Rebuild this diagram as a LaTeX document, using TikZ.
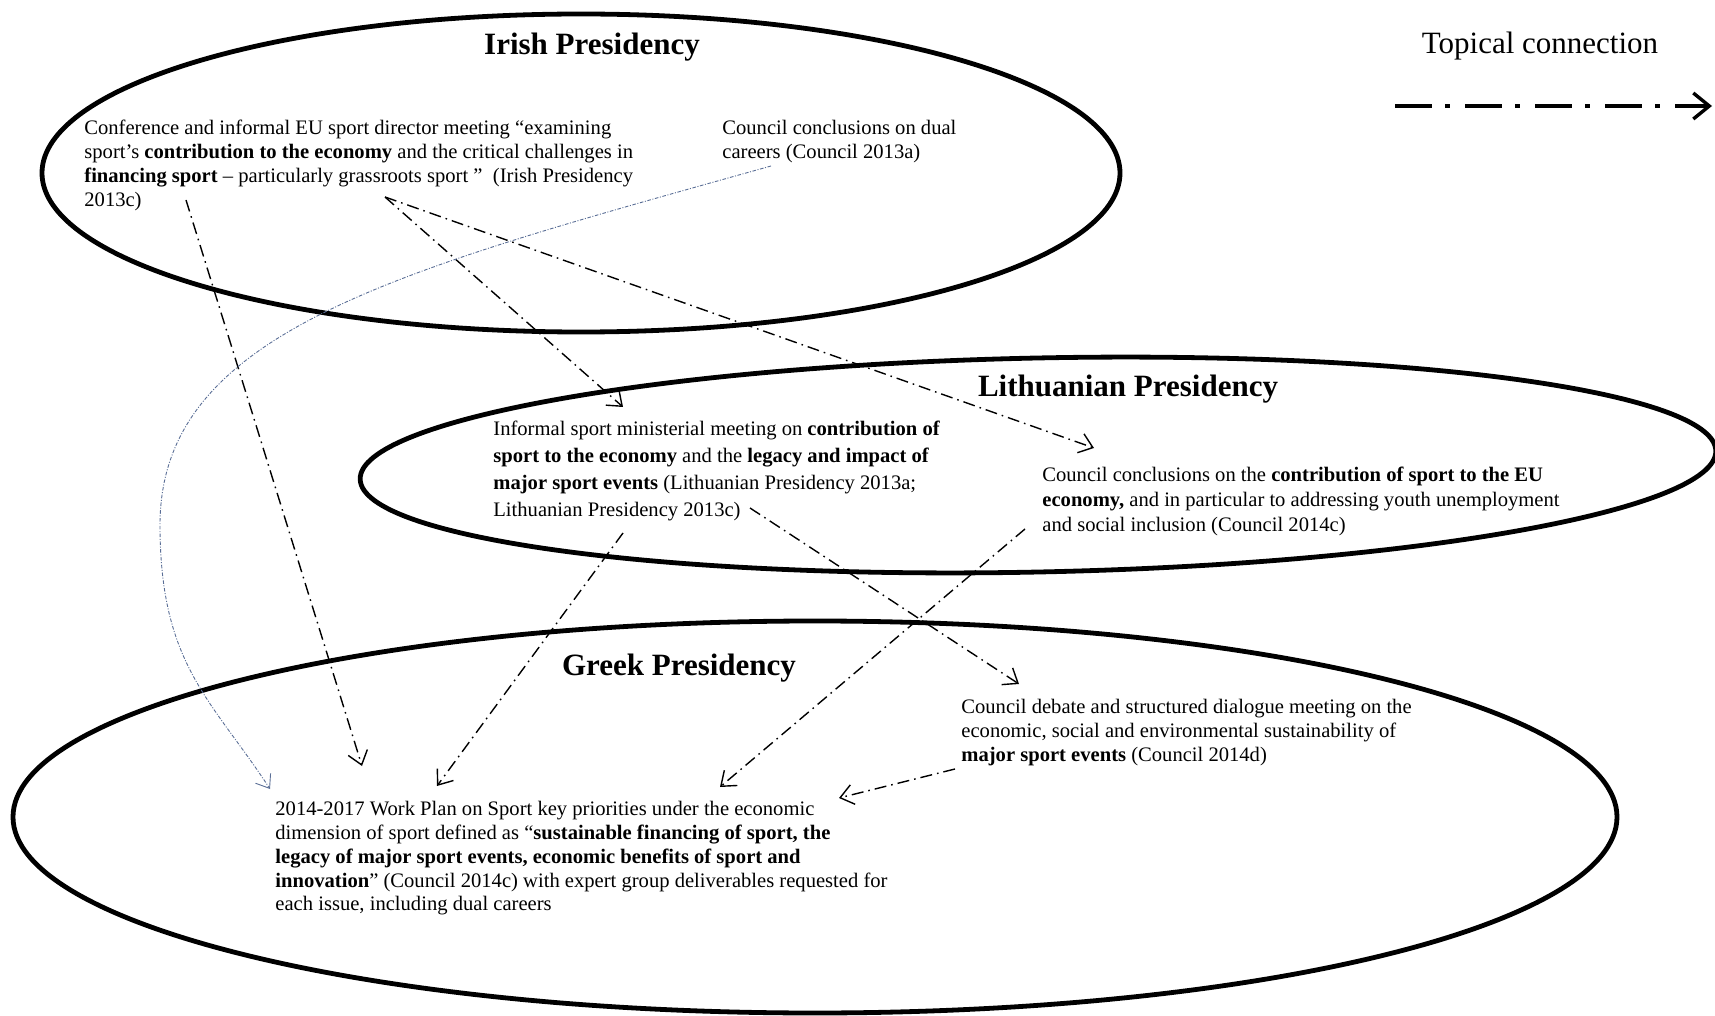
\documentclass[tikz,border=0pt]{standalone}
\usepackage{fontspec}
\setmainfont{Liberation Serif}
\usetikzlibrary{arrows.meta}
\definecolor{dualblue}{RGB}{90,110,150}
\begin{document}
\begin{tikzpicture}[x=0.5pt,y=-0.5pt,
  region/.style={line width=2.4pt},
  body/.style={anchor=north west, inner sep=0pt, align=left},
  title/.style={font=\fontsize{15.5}{18}\selectfont\bfseries, inner sep=0pt},
  topical/.style={line width=0.7pt, dash pattern=on 6pt off 2.5pt on 0.8pt off 2.5pt,
    -{Straight Barb[length=6.5pt,width=10pt,line width=0.7pt]}},
  dualcareer/.style={dualblue, line width=0.45pt, dash pattern=on 1.8pt off 0.8pt on 0.5pt off 0.8pt,
    -{Straight Barb[length=6pt,width=9pt,line width=0.45pt]}},
  legend/.style={line width=1.7pt, dash pattern=on 18.5pt off 6.5pt on 2.5pt off 7.5pt,
    -{Straight Barb[length=8pt,width=13pt,line width=1.7pt]}}
]
\useasboundingbox (0,0) rectangle (1715,1016);

% presidencies
\draw[region] (581,173) ellipse [x radius=269.5pt, y radius=79.5pt];
\draw[region, rotate around={1.2:(1038,465)}] (1038,465) ellipse [x radius=339pt, y radius=53.5pt];
\draw[region] (815,817) ellipse [x radius=401pt, y radius=98pt];

\node[title] (irishT) at (592,47) {Irish Presidency};
\node[title] (lithT) at (1128,389) {Lithuanian Presidency};
\node[title] (greekT) at (679,668) {Greek Presidency};

% legend
\node[font=\fontsize{15.5}{18}\selectfont, inner sep=0pt] (legT) at (1540,46) {Topical connection};
\coordinate (legA) at (1395,106);
\coordinate (legB) at (1712,106);
\draw[legend] (legA) -- (legB);

% texts
\node[body, font=\fontsize{10.3}{12}\selectfont] (conf) at (84,120) {Conference and informal EU sport director meeting “examining\\
sport’s \textbf{contribution to the economy} and the critical challenges in\\
\textbf{financing sport} – particularly grassroots sport ”~~(Irish Presidency\\
2013c)};
\node[body, font=\fontsize{10.3}{12}\selectfont] (dual) at (722,120) {Council conclusions on dual\\
careers (Council 2013a)};
\node[body, font=\fontsize{10.3}{13.4}\selectfont] (informal) at (493,421) {Informal sport ministerial meeting on \textbf{contribution of}\\
\textbf{sport to the economy} and the \textbf{legacy and impact of}\\
\textbf{major sport events} (Lithuanian Presidency 2013a;\\
Lithuanian Presidency 2013c)};
\node[body, font=\fontsize{10.3}{12.3}\selectfont] (contrib) at (1042,467) {Council conclusions on the \textbf{contribution of sport to the EU}\\
\textbf{economy,} and in particular to addressing youth unemployment\\
and social inclusion (Council 2014c)};
\node[body, font=\fontsize{10.3}{12}\selectfont] (debate) at (961,699) {Council debate and structured dialogue meeting on the\\
economic, social and environmental sustainability of\\
\textbf{major sport events} (Council 2014d)};
\node[body, font=\fontsize{10.3}{11.9}\selectfont] (workplan) at (275,801) {2014-2017 Work Plan on Sport key priorities under the economic\\
dimension of sport defined as “\textbf{sustainable financing of sport, the}\\
\textbf{legacy of major sport events, economic benefits of sport and}\\
\textbf{innovation}” (Council 2014c) with expert group deliverables requested for\\
each issue, including dual careers};

% connector ends
\coordinate (confA) at (186,200);
\coordinate (confB) at (385,197);
\coordinate (dualA) at (771,166);
\coordinate (infA) at (623,407);
\coordinate (infB) at (623,533);
\coordinate (infC) at (750,508);
\coordinate (conA) at (1094,448);
\coordinate (conB) at (1025,529);
\coordinate (debA) at (1019,684);
\coordinate (debB) at (955,769);
\coordinate (wpA) at (362,766);
\coordinate (wpB) at (437,786);
\coordinate (wpC) at (720,787);
\coordinate (wpD) at (839,798);
\coordinate (wpE) at (270,789);
\coordinate (bend) at (160,525);

\draw[topical] (confA) -- (wpA);
\draw[topical] (confB) -- (infA);
\draw[topical] (confB) -- (conA);
\draw[topical] (infB) -- (wpB);
\draw[topical] (infC) -- (debA);
\draw[topical] (conB) -- (wpC);
\draw[topical] (debB) -- (wpD);
\draw[dualcareer] (dualA) .. controls (400,270) and (160,330) .. (bend)
  .. controls (160,665) and (212,700) .. (wpE);
\end{tikzpicture}
\end{document}
